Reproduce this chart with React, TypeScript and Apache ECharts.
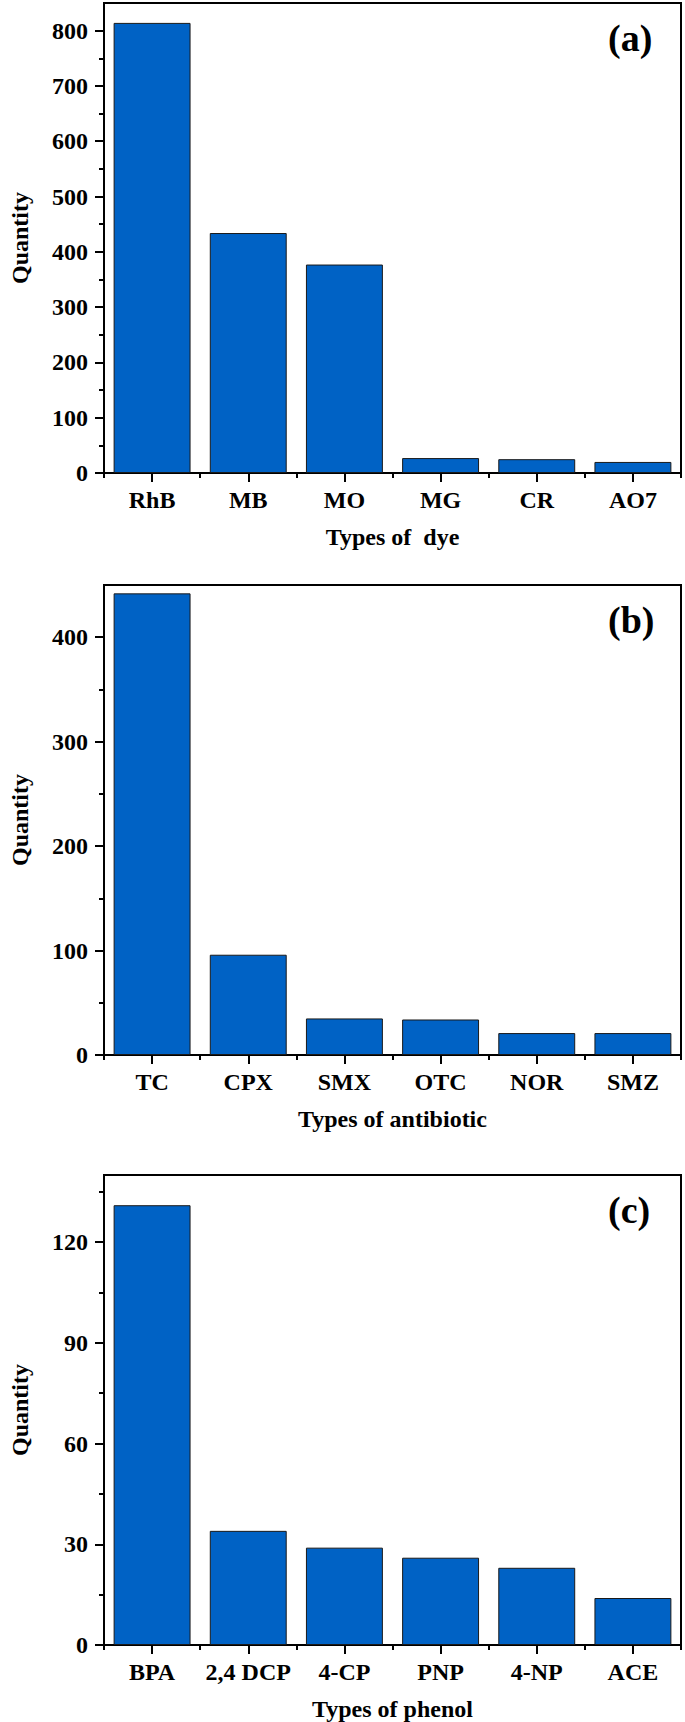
import React, { useEffect, useRef } from "react";
import * as echarts from "echarts";

const dyeCategories = ["RhB", "MB", "MO", "MG", "CR", "AO7"];
const dyeValues = [814, 434, 377, 27, 25, 20];
const dyeMajorTicks = [0, 100, 200, 300, 400, 500, 600, 700, 800];
const dyeMinorTicks = [50, 150, 250, 350, 450, 550, 650, 750];

const antibioticCategories = ["TC", "CPX", "SMX", "OTC", "NOR", "SMZ"];
const antibioticValues = [442, 96, 35, 34, 21, 21];
const antibioticMajorTicks = [0, 100, 200, 300, 400];
const antibioticMinorTicks = [50, 150, 250, 350];

const phenolCategories = ["BPA", "2,4 DCP", "4-CP", "PNP", "4-NP", "ACE"];
const phenolValues = [131, 34, 29, 26, 23, 14];
const phenolMajorTicks = [0, 30, 60, 90, 120];
const phenolMinorTicks = [15, 45, 75, 105, 135];

const panels = [
  { tag: "(a)", title: "Types of  dye", cats: dyeCategories, vals: dyeValues, max: 850, major: dyeMajorTicks, minor: dyeMinorTicks, top: 3 },
  { tag: "(b)", title: "Types of antibiotic", cats: antibioticCategories, vals: antibioticValues, max: 450, major: antibioticMajorTicks, minor: antibioticMinorTicks, top: 585 },
  { tag: "(c)", title: "Types of phenol", cats: phenolCategories, vals: phenolValues, max: 140, major: phenolMajorTicks, minor: phenolMinorTicks, top: 1175 },
];

const FONT = "'Liberation Serif', 'Times New Roman', serif";
const GRID_LEFT = 97;
const GRID_RIGHT = 4;
const GRID_H = 470;

export default function App() {
  const ref = useRef<HTMLDivElement>(null);
  useEffect(() => {
    if (!ref.current) return;
    const chart = echarts.init(ref.current, null, { renderer: "svg" });
    const grid: any[] = [];
    const xAxis: any[] = [];
    const yAxis: any[] = [];
    const series: any[] = [];
    const graphic: any[] = [];
    panels.forEach((p, i) => {
      grid.push({
        left: GRID_LEFT,
        right: GRID_RIGHT,
        top: p.top,
        height: GRID_H,
        show: true,
        borderColor: "#000",
        borderWidth: 2,
        containLabel: false,
      });
      // main category axis: labels + center ticks
      xAxis.push({
        type: "category",
        gridIndex: i,
        position: "bottom",
        data: p.cats,
        axisLine: { show: true, lineStyle: { color: "#000", width: 2 } },
        axisTick: { show: true, alignWithLabel: true, length: 9, lineStyle: { color: "#000", width: 2 } },
        axisLabel: { color: "#000", fontFamily: FONT, fontWeight: "bold", fontSize: 24, margin: 15, interval: 0 },
        splitLine: { show: false },
        name: p.title,
        nameLocation: "middle",
        nameGap: 52,
        nameTextStyle: { color: "#000", fontFamily: FONT, fontWeight: "bold", fontSize: 24 },
      });
      // boundary ticks axis
      xAxis.push({
        type: "category",
        gridIndex: i,
        position: "bottom",
        data: p.cats,
        axisLine: { show: false },
        axisTick: { show: true, alignWithLabel: false, length: 5, lineStyle: { color: "#000", width: 2 } },
        axisLabel: { show: false },
        splitLine: { show: false },
      });
      yAxis.push({
        type: "value",
        gridIndex: i,
        position: "left",
        min: 0,
        max: p.max,
        axisLine: { show: true, lineStyle: { color: "#000", width: 2 } },
        axisTick: { show: true, length: 9, customValues: p.major, lineStyle: { color: "#000", width: 2 } },
        axisLabel: { color: "#000", fontFamily: FONT, fontWeight: "bold", fontSize: 24, margin: 16, customValues: p.major },
        splitLine: { show: false },
        name: "Quantity",
        nameLocation: "middle",
        nameGap: 72,
        nameRotate: 90,
        nameTextStyle: { color: "#000", fontFamily: FONT, fontWeight: "bold", fontSize: 24 },
      });
      yAxis.push({
        type: "value",
        gridIndex: i,
        position: "left",
        min: 0,
        max: p.max,
        axisLine: { show: false },
        axisTick: { show: true, length: 5, customValues: p.minor, lineStyle: { color: "#000", width: 2 } },
        axisLabel: { show: false, customValues: p.minor },
        splitLine: { show: false },
      });
      series.push({
        type: "bar",
        xAxisIndex: i * 2,
        yAxisIndex: i * 2,
        data: p.vals,
        barWidth: "80%",
        itemStyle: { color: "#0062C5", borderColor: "#1a1a1a", borderWidth: 1 },
      });
      graphic.push({
        type: "text",
        left: 608,
        top: p.top + 16,
        style: { text: p.tag, fill: "#000", font: `bold 38px ${FONT}` },
      });
    });
    chart.setOption({
      animation: false,
      backgroundColor: "#fff",
      grid,
      xAxis,
      yAxis,
      series,
      graphic,
    });
    return () => chart.dispose();
  }, []);
  return (
    <div
      ref={ref}
      style={{ position: "absolute", left: 0, top: 0, width: 685, height: 1722, background: "#fff" }}
    />
  );
}
